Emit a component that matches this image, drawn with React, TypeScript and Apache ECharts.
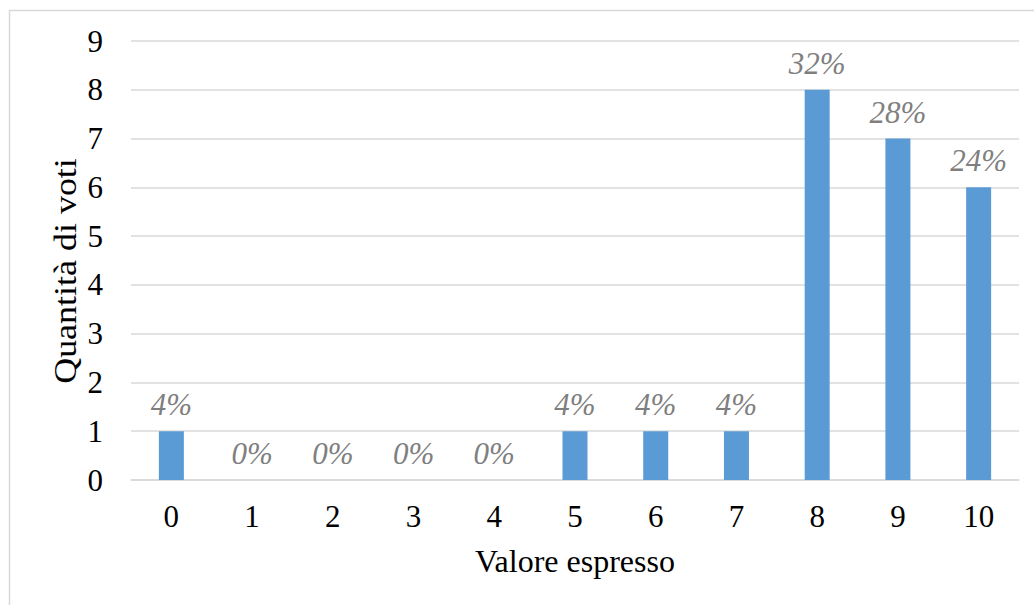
import React, { useEffect, useRef } from "react";
import * as echarts from "echarts";

const categories = ["0", "1", "2", "3", "4", "5", "6", "7", "8", "9", "10"];
const votes = [1, 0, 0, 0, 0, 1, 1, 1, 8, 7, 6];
const percentLabels = ["4%", "0%", "0%", "0%", "0%", "4%", "4%", "4%", "32%", "28%", "24%"];
const yTicks = { min: 0, max: 9, interval: 1 };
const xTitle = "Valore espresso";
const yTitle = "Quantità di voti";

const FONT = "'Liberation Serif', 'Times New Roman', serif";

export default function App() {
  const ref = useRef<HTMLDivElement>(null);
  useEffect(() => {
    if (!ref.current) return;
    const chart = echarts.init(ref.current, undefined, { renderer: "svg" });
    chart.setOption({
      animation: false,
      backgroundColor: "#ffffff",
      textStyle: { fontFamily: FONT },
      grid: { left: 131, right: 15, top: 41, bottom: 125, containLabel: false },
      graphic: [
        {
          type: "polyline",
          shape: { points: [[9.5, 605], [9.5, 10.5], [1034, 10.5]] },
          style: { stroke: "#d9d9d9", lineWidth: 1.5, fill: "none" },
          silent: true,
        },
        {
          type: "text",
          x: 65,
          y: 271,
          rotation: Math.PI / 2,
          scaleX: 1.16,
          style: {
            text: yTitle,
            fontSize: 31,
            fontFamily: FONT,
            fill: "#000000",
            align: "center",
            verticalAlign: "middle",
          },
          silent: true,
        },
      ],
      xAxis: {
        type: "category",
        data: categories,
        name: xTitle,
        nameLocation: "middle",
        nameGap: 65,
        nameTextStyle: { fontSize: 32, color: "#000000", fontFamily: FONT },
        axisLine: { lineStyle: { color: "#d9d9d9", width: 1.5 } },
        axisTick: { show: false },
        axisLabel: { fontSize: 31, color: "#000000", margin: 21, fontFamily: FONT },
      },
      yAxis: {
        type: "value",
        min: yTicks.min,
        max: yTicks.max,
        interval: yTicks.interval,
        axisLine: { show: false },
        axisTick: { show: false },
        splitLine: { lineStyle: { color: "#d9d9d9", width: 1.5 } },
        axisLabel: { fontSize: 31, color: "#000000", margin: 28, fontFamily: FONT },
      },
      series: [
        {
          type: "bar",
          data: votes,
          barWidth: 25,
          itemStyle: { color: "#5b9bd5" },
          label: {
            show: true,
            position: "top",
            distance: 11,
            fontSize: 31,
            fontStyle: "italic",
            color: "#7f7f7f",
            fontFamily: FONT,
            formatter: (p: any) => percentLabels[p.dataIndex],
          },
        },
      ],
    });
    return () => chart.dispose();
  }, []);
  return (
    <div
      ref={ref}
      style={{ position: "fixed", left: 0, top: 0, width: 1034, height: 605 }}
    />
  );
}
